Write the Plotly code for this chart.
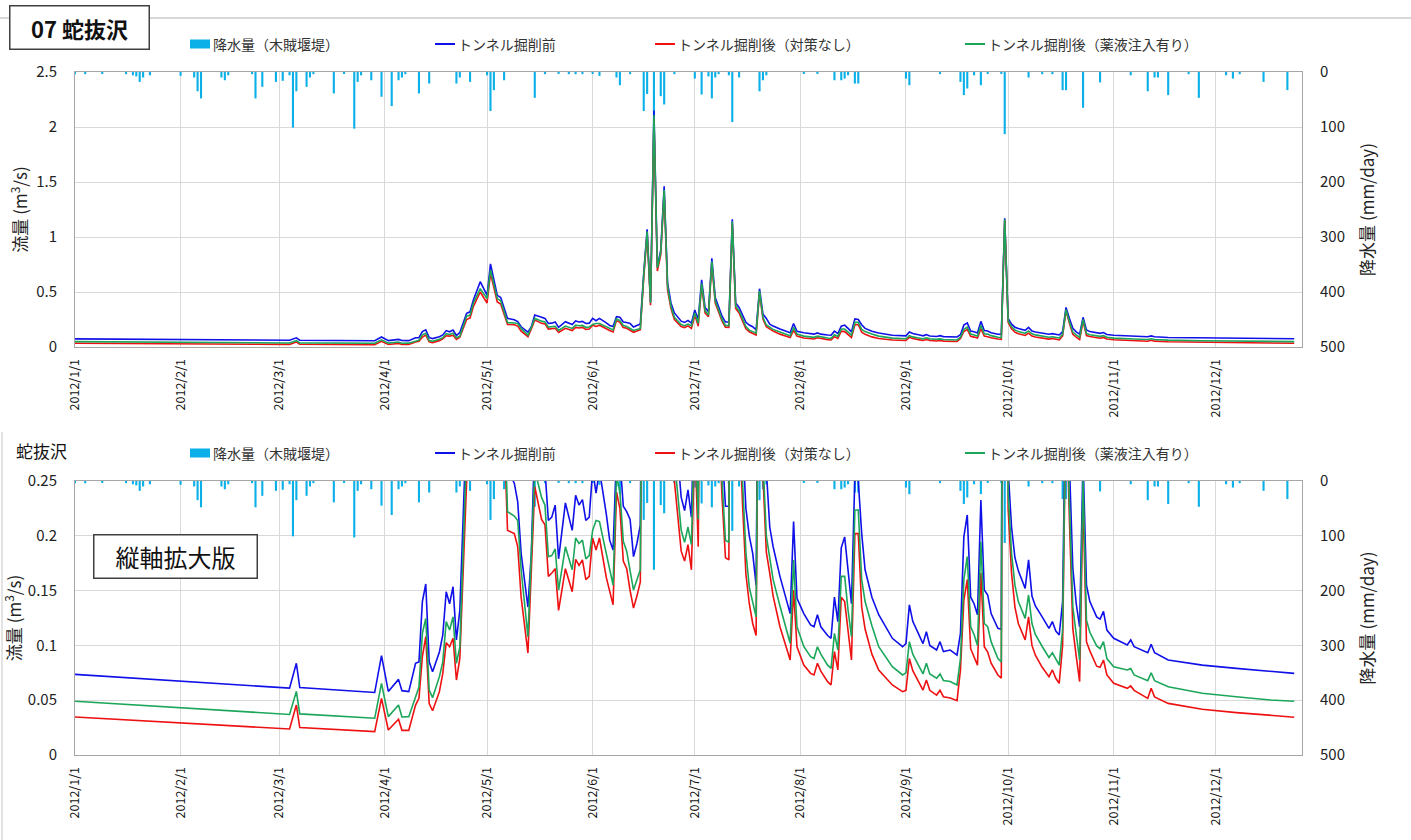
import plotly.graph_objects as go

# ---------------- data ----------------
flow_dates = [
    "2012-01-01", "2012-03-04", "2012-03-06", "2012-03-07", "2012-03-29", "2012-03-31",
    "2012-04-02", "2012-04-05", "2012-04-06", "2012-04-08", "2012-04-10", "2012-04-11",
    "2012-04-12", "2012-04-13", "2012-04-14", "2012-04-15", "2012-04-17", "2012-04-18",
    "2012-04-19", "2012-04-20", "2012-04-21", "2012-04-22", "2012-04-23", "2012-04-25",
    "2012-04-26", "2012-04-27", "2012-04-29", "2012-05-01", "2012-05-02", "2012-05-04",
    "2012-05-05", "2012-05-07", "2012-05-09", "2012-05-10", "2012-05-11", "2012-05-13",
    "2012-05-14", "2012-05-15", "2012-05-17", "2012-05-18", "2012-05-19", "2012-05-20",
    "2012-05-21", "2012-05-22", "2012-05-24", "2012-05-26", "2012-05-27", "2012-05-28",
    "2012-05-29", "2012-05-30", "2012-05-31", "2012-06-01", "2012-06-02", "2012-06-03",
    "2012-06-05", "2012-06-06", "2012-06-07", "2012-06-08", "2012-06-09", "2012-06-10",
    "2012-06-11", "2012-06-12", "2012-06-13", "2012-06-14", "2012-06-15", "2012-06-16",
    "2012-06-17", "2012-06-18", "2012-06-19", "2012-06-20", "2012-06-21", "2012-06-22",
    "2012-06-23", "2012-06-24", "2012-06-25", "2012-06-27", "2012-06-28", "2012-06-29",
    "2012-06-30", "2012-07-01", "2012-07-02", "2012-07-03", "2012-07-04", "2012-07-05",
    "2012-07-06", "2012-07-07", "2012-07-08", "2012-07-09", "2012-07-10", "2012-07-11",
    "2012-07-12", "2012-07-13", "2012-07-14", "2012-07-15", "2012-07-16", "2012-07-17",
    "2012-07-18", "2012-07-19", "2012-07-20", "2012-07-21", "2012-07-22", "2012-07-23",
    "2012-07-24", "2012-07-26", "2012-07-28", "2012-07-29", "2012-07-30", "2012-07-31",
    "2012-08-02", "2012-08-04", "2012-08-05", "2012-08-06", "2012-08-07", "2012-08-09",
    "2012-08-10", "2012-08-11", "2012-08-12", "2012-08-13", "2012-08-14", "2012-08-15",
    "2012-08-16", "2012-08-17", "2012-08-18", "2012-08-19", "2012-08-20", "2012-08-22",
    "2012-08-24", "2012-08-28", "2012-08-31", "2012-09-01", "2012-09-02", "2012-09-03",
    "2012-09-05", "2012-09-06", "2012-09-07", "2012-09-08", "2012-09-10", "2012-09-11",
    "2012-09-12", "2012-09-14", "2012-09-16", "2012-09-17", "2012-09-18", "2012-09-19",
    "2012-09-20", "2012-09-21", "2012-09-22", "2012-09-23", "2012-09-24", "2012-09-25",
    "2012-09-26", "2012-09-28", "2012-09-29", "2012-09-30", "2012-10-01", "2012-10-02",
    "2012-10-03", "2012-10-04", "2012-10-06", "2012-10-07", "2012-10-08", "2012-10-09",
    "2012-10-11", "2012-10-13", "2012-10-14", "2012-10-15", "2012-10-16", "2012-10-17",
    "2012-10-18", "2012-10-19", "2012-10-20", "2012-10-21", "2012-10-22", "2012-10-23",
    "2012-10-24", "2012-10-25", "2012-10-27", "2012-10-28", "2012-10-29", "2012-10-30",
    "2012-11-01", "2012-11-05", "2012-11-06", "2012-11-07", "2012-11-11", "2012-11-12",
    "2012-11-13", "2012-11-17", "2012-11-27", "2012-12-07", "2012-12-17", "2012-12-24",
]

flow_before = [  # トンネル掘削前 (blue)
    0.0736, 0.061, 0.0837, 0.0615, 0.057, 0.0906,
    0.058, 0.069, 0.0587, 0.0578, 0.0837, 0.085,
    0.14, 0.156, 0.085, 0.076, 0.094, 0.1095,
    0.149, 0.138, 0.1535, 0.105, 0.132, 0.306,
    0.32, 0.43, 0.594, 0.47, 0.755, 0.47,
    0.45, 0.26, 0.248, 0.231, 0.184, 0.135,
    0.184, 0.29, 0.27, 0.26, 0.214, 0.217,
    0.228, 0.179, 0.23, 0.205, 0.237, 0.228,
    0.233, 0.214, 0.217, 0.26, 0.239, 0.26,
    0.22, 0.196, 0.187, 0.275, 0.27, 0.227,
    0.222, 0.215, 0.181, 0.193, 0.21, 0.67,
    1.07, 0.41, 2.15, 0.73, 0.88, 1.46,
    0.58, 0.40, 0.31, 0.235, 0.223, 0.242,
    0.217, 0.336, 0.25, 0.61, 0.36, 0.32,
    0.806, 0.45, 0.36, 0.28, 0.227, 0.227,
    1.16, 0.40, 0.36, 0.29, 0.225, 0.20,
    0.184, 0.155, 0.53, 0.30, 0.26, 0.208,
    0.19, 0.163, 0.14, 0.129, 0.213, 0.143,
    0.129, 0.1186, 0.117, 0.128, 0.117, 0.109,
    0.1065, 0.144, 0.1216, 0.189, 0.199, 0.169,
    0.138, 0.255, 0.25, 0.202, 0.169, 0.144,
    0.128, 0.1065, 0.0988, 0.1016, 0.137, 0.122,
    0.109, 0.1016, 0.1125, 0.10, 0.0958, 0.1034,
    0.0943, 0.0958, 0.0912, 0.111, 0.199, 0.219,
    0.144, 0.138, 0.128, 0.2327, 0.1505, 0.146,
    0.129, 0.1156, 0.1147, 1.17, 0.26, 0.208,
    0.18, 0.168, 0.152, 0.178, 0.145, 0.136,
    0.126, 0.1156, 0.1217, 0.113, 0.1095, 0.14,
    0.36, 0.26, 0.17, 0.138, 0.117, 0.27,
    0.155, 0.14, 0.126, 0.124, 0.131, 0.114,
    0.1065, 0.1004, 0.105, 0.0988, 0.0933, 0.101,
    0.0933, 0.0867, 0.082, 0.079, 0.076, 0.0745,
]

flow_after_none = [  # トンネル掘削後（対策なし） (red)
    0.0347, 0.0237, 0.0456, 0.025, 0.0213, 0.0517,
    0.0228, 0.0326, 0.0225, 0.0225, 0.0456, 0.0517,
    0.0897, 0.108, 0.047, 0.0404, 0.0578, 0.0745,
    0.1025, 0.0988, 0.1065, 0.0684, 0.0882, 0.25,
    0.265, 0.37, 0.50, 0.40, 0.67, 0.41,
    0.39, 0.205, 0.202, 0.19, 0.144, 0.093,
    0.165, 0.245, 0.215, 0.21, 0.163, 0.166,
    0.17, 0.132, 0.17, 0.149, 0.1785, 0.173,
    0.178, 0.16, 0.163, 0.198, 0.187, 0.198,
    0.162, 0.15, 0.137, 0.24, 0.225, 0.177,
    0.17, 0.15, 0.134, 0.145, 0.158, 0.63,
    1.03, 0.38, 2.07, 0.69, 0.84, 1.40,
    0.52, 0.35, 0.25, 0.186, 0.177, 0.192,
    0.169, 0.29, 0.19, 0.56, 0.31, 0.275,
    0.76, 0.40, 0.31, 0.235, 0.18, 0.178,
    1.12, 0.35, 0.31, 0.23, 0.165, 0.138,
    0.12, 0.109, 0.49, 0.255, 0.185, 0.166,
    0.145, 0.117, 0.097, 0.0867, 0.1505, 0.0988,
    0.082, 0.0745, 0.073, 0.0837, 0.0765, 0.0669,
    0.0639, 0.0943, 0.0776, 0.144, 0.14, 0.11,
    0.0867, 0.202, 0.202, 0.135, 0.115, 0.092,
    0.0776, 0.0639, 0.0578, 0.059, 0.088, 0.077,
    0.065, 0.0593, 0.0684, 0.059, 0.0547, 0.059,
    0.0532, 0.052, 0.0496, 0.0776, 0.141, 0.16,
    0.097, 0.09, 0.082, 0.166, 0.0988, 0.094,
    0.0837, 0.073, 0.07, 1.15, 0.225, 0.166,
    0.135, 0.12, 0.105, 0.126, 0.10, 0.091,
    0.08, 0.0715, 0.0776, 0.07, 0.0654, 0.10,
    0.33, 0.215, 0.115, 0.09, 0.067, 0.235,
    0.1034, 0.095, 0.081, 0.08, 0.0867, 0.073,
    0.0654, 0.0608, 0.063, 0.059, 0.0517, 0.0608,
    0.053, 0.0471, 0.0417, 0.0387, 0.0365, 0.0345,
]

flow_after_grout = [  # トンネル掘削後（薬液注入有り） (green)
    0.049, 0.037, 0.058, 0.0375, 0.0335, 0.0654,
    0.035, 0.0456, 0.0347, 0.035, 0.053, 0.062,
    0.111, 0.1247, 0.0593, 0.0523, 0.0715, 0.085,
    0.1217, 0.114, 0.126, 0.0837, 0.0985, 0.28,
    0.29, 0.40, 0.53, 0.44, 0.70, 0.44,
    0.42, 0.222, 0.218, 0.214, 0.169, 0.108,
    0.18, 0.26, 0.235, 0.228, 0.181, 0.182,
    0.188, 0.1505, 0.19, 0.169, 0.198, 0.193,
    0.196, 0.179, 0.182, 0.205, 0.214, 0.213,
    0.184, 0.17, 0.155, 0.255, 0.24, 0.195,
    0.186, 0.168, 0.1505, 0.16, 0.169, 0.65,
    1.05, 0.40, 2.11, 0.72, 0.86, 1.43,
    0.55, 0.37, 0.27, 0.205, 0.194, 0.208,
    0.192, 0.31, 0.215, 0.58, 0.33, 0.29,
    0.78, 0.42, 0.33, 0.25, 0.196, 0.194,
    1.14, 0.37, 0.33, 0.25, 0.185, 0.153,
    0.138, 0.126, 0.51, 0.27, 0.20, 0.178,
    0.16, 0.136, 0.114, 0.102, 0.178, 0.117,
    0.099, 0.0897, 0.088, 0.0988, 0.092, 0.082,
    0.079, 0.111, 0.096, 0.163, 0.163, 0.132,
    0.108, 0.2235, 0.2235, 0.16, 0.14, 0.118,
    0.0988, 0.0806, 0.073, 0.075, 0.1034, 0.092,
    0.08, 0.074, 0.0837, 0.074, 0.07, 0.074,
    0.068, 0.067, 0.0639, 0.088, 0.16, 0.181,
    0.117, 0.11, 0.10, 0.1946, 0.12, 0.117,
    0.1034, 0.088, 0.085, 1.16, 0.24, 0.184,
    0.155, 0.14, 0.1247, 0.146, 0.12, 0.11,
    0.099, 0.089, 0.0933, 0.087, 0.082, 0.115,
    0.34, 0.23, 0.135, 0.11, 0.0867, 0.25,
    0.123, 0.112, 0.0995, 0.097, 0.1034, 0.088,
    0.0806, 0.0776, 0.079, 0.073, 0.0678, 0.075,
    0.0678, 0.0623, 0.0563, 0.0532, 0.0502, 0.049,
]

rain_dates = [
    "2012-01-01", "2012-01-04", "2012-01-09", "2012-01-16", "2012-01-18", "2012-01-19",
    "2012-01-20", "2012-01-21", "2012-01-23", "2012-02-01", "2012-02-05", "2012-02-06",
    "2012-02-07", "2012-02-13", "2012-02-14", "2012-02-15", "2012-02-22", "2012-02-23",
    "2012-02-25", "2012-02-29", "2012-03-02", "2012-03-04", "2012-03-05", "2012-03-06",
    "2012-03-09", "2012-03-10", "2012-03-11", "2012-03-17", "2012-03-20", "2012-03-23",
    "2012-03-24", "2012-03-25", "2012-03-28", "2012-03-31", "2012-04-03", "2012-04-05",
    "2012-04-06", "2012-04-07", "2012-04-11", "2012-04-14", "2012-04-22", "2012-04-23",
    "2012-04-26", "2012-05-01", "2012-05-02", "2012-05-03", "2012-05-06", "2012-05-15",
    "2012-05-18", "2012-05-22", "2012-05-25", "2012-05-27", "2012-05-29", "2012-06-01",
    "2012-06-03", "2012-06-08", "2012-06-09", "2012-06-12", "2012-06-16", "2012-06-17",
    "2012-06-19", "2012-06-21", "2012-06-22", "2012-06-25", "2012-07-01", "2012-07-03",
    "2012-07-05", "2012-07-06", "2012-07-07", "2012-07-08", "2012-07-11", "2012-07-12",
    "2012-07-14", "2012-07-20", "2012-07-21", "2012-07-22", "2012-08-02", "2012-08-06",
    "2012-08-11", "2012-08-13", "2012-08-14", "2012-08-15", "2012-08-17", "2012-08-18",
    "2012-09-01", "2012-09-02", "2012-09-11", "2012-09-17", "2012-09-18", "2012-09-19",
    "2012-09-21", "2012-09-23", "2012-09-25", "2012-09-29", "2012-09-30", "2012-10-07",
    "2012-10-11", "2012-10-14", "2012-10-17", "2012-10-18", "2012-10-23", "2012-10-28",
    "2012-11-06", "2012-11-11", "2012-11-13", "2012-11-14", "2012-11-17", "2012-11-23",
    "2012-11-26", "2012-12-04", "2012-12-06", "2012-12-08", "2012-12-15", "2012-12-22",
]
rain_mm = [
    4, 4, 3, 4, 6, 8,
    18, 10, 6, 7, 10, 35,
    48, 10, 15, 6, 4, 48,
    27, 18, 16, 6, 101, 35,
    27, 10, 4, 39, 3, 103,
    18, 6, 15, 45, 62, 15,
    10, 4, 39, 21, 21, 10,
    18, 6, 71, 33, 15, 47,
    4, 3, 4, 4, 4, 3,
    7, 10, 24, 4, 71, 40,
    162, 44, 59, 4, 12, 41,
    8, 48, 10, 4, 6, 91,
    10, 35, 15, 6, 3, 3,
    15, 15, 12, 6, 21, 21,
    12, 24, 4, 18, 42, 30,
    6, 24, 3, 3, 113, 10,
    4, 4, 33, 33, 65, 19,
    6, 35, 10, 10, 42, 4,
    47, 6, 12, 4, 18, 33,
]

month_ticks = ["2012-%02d-01" % m for m in range(1, 13)]
month_labels = ["2012/%d/1" % m for m in range(1, 13)]

series_names = ["トンネル掘削前", "トンネル掘削後（対策なし）", "トンネル掘削後（薬液注入有り）"]
rain_name = "降水量（木賊堰堤）"

assert len(flow_dates) == len(flow_before) == len(flow_after_none) == len(flow_after_grout)
assert len(rain_dates) == len(rain_mm)

# ---------------- styling ----------------
FONT = "Noto Sans CJK JP"
BLUE, RED, GREEN, RAIN = "#1010e8", "#ee1111", "#1ca65a", "#0bb0e8"
GRID = "#d9d9d9"
AXLINE = "#a6a6a6"

W, H = 1411, 840
L, R, T, B = 75, 1302, 72, 755  # plot area pixels (both panels span L..R)
TOP_Y0, TOP_Y1 = 72, 347
BOT_Y0, BOT_Y1 = 481, 755
PH = B - T


def py(p):  # pixel y -> paper y
    return (B - p) / PH


def px(p):  # pixel x -> paper x
    return (p - L) / (R - L)


x_range = ["2012-01-01", "2012-12-26 07:00"]

fig = go.Figure()

panels = [("x", "y", "y2"), ("x2", "y3", "y4")]
line_series = [(flow_before, BLUE), (flow_after_none, RED), (flow_after_grout, GREEN)]
for xa, rain_ax, flow_ax in panels:
    fig.add_trace(go.Bar(
        x=rain_dates, y=rain_mm, xaxis=xa, yaxis=rain_ax, name=rain_name,
        marker=dict(color=RAIN, line=dict(width=0)), width=0.62 * 86400000,
        showlegend=False,
    ))
    for i, (vals, col) in enumerate(line_series):
        fig.add_trace(go.Scatter(
            x=flow_dates, y=vals, xaxis=xa, yaxis=flow_ax, mode="lines",
            name=series_names[i], line=dict(color=col, width=1.6), showlegend=False,
        ))

tickfont_num = dict(family=FONT, size=15, color="#222")
xcommon = dict(
    type="date", range=x_range, tickvals=month_ticks, ticktext=month_labels,
    tickangle=-90, tickfont=dict(family=FONT, size=12.5, color="#111"),
    showgrid=True, gridcolor=GRID, gridwidth=1, showline=True, linecolor=AXLINE,
    mirror=True, ticks="", zeroline=False, automargin=False, domain=[0, 1],
    ticklabelstandoff=6,
)
top_dom = [py(TOP_Y1), py(TOP_Y0)]
bot_dom = [py(BOT_Y1), py(BOT_Y0)]

rain_axis = dict(side="right", range=[500, 0], dtick=100, tickfont=tickfont_num,
                 showgrid=True, gridcolor=GRID, zeroline=False, showline=True,
                 linecolor=AXLINE, ticks="", automargin=False, ticklabelstandoff=14,
                 title=dict(text="降水量 (mm/day)", font=dict(family=FONT, size=17), standoff=18))
flow_axis = dict(side="left", tickfont=tickfont_num, showgrid=False, zeroline=False,
                 showline=True, linecolor=AXLINE, ticks="", automargin=False,
                 ticklabelstandoff=14,
                 title=dict(text="流量 (m<sup>3</sup>/s)", font=dict(family=FONT, size=17), standoff=4))

fig.update_layout(
    width=W, height=H,
    margin=dict(l=L, r=W - R, t=T, b=H - B, pad=0),
    paper_bgcolor="white", plot_bgcolor="white",
    font=dict(family=FONT, color="#222"),
    showlegend=False,
    xaxis=dict(xcommon, anchor="y"),
    xaxis2=dict(xcommon, anchor="y3"),
    yaxis=dict(rain_axis, domain=top_dom, anchor="x"),
    yaxis2=dict(flow_axis, overlaying="y", anchor="x", range=[0, 2.5], dtick=0.5),
    yaxis3=dict(rain_axis, domain=bot_dom, anchor="x2"),
    yaxis4=dict(flow_axis, overlaying="y3", anchor="x2", range=[0, 0.25], dtick=0.05),
)

# ---- hand-placed legends (one row above each panel) ----
legend_rows = [44, 453]
sym_x = [190, 435, 655, 965]
legend_labels = [rain_name] + series_names
legend_colors = [RAIN, BLUE, RED, GREEN]
for ly in legend_rows:
    for k in range(4):
        x0 = sym_x[k]
        if k == 0:
            fig.add_shape(type="rect", xref="paper", yref="paper",
                          x0=px(x0), x1=px(x0 + 20), y0=py(ly - 4.5), y1=py(ly + 4.5),
                          fillcolor=legend_colors[k], line=dict(width=0))
        else:
            fig.add_shape(type="line", xref="paper", yref="paper",
                          x0=px(x0), x1=px(x0 + 20), y0=py(ly), y1=py(ly),
                          line=dict(color=legend_colors[k], width=2))
        fig.add_annotation(text=legend_labels[k], xref="paper", yref="paper",
                           x=px(x0 + 21), y=py(ly), xanchor="left", yanchor="middle",
                           showarrow=False, font=dict(family=FONT, size=14, color="#333"))

# header rule and left rule
fig.add_shape(type="line", xref="paper", yref="paper", x0=px(0), x1=px(W), y0=py(18), y1=py(18),
              line=dict(color="#b0b0b0", width=1))
fig.add_shape(type="line", xref="paper", yref="paper", x0=px(2), x1=px(2), y0=py(432), y1=py(840),
              line=dict(color="#c8c8c8", width=1))

fig.add_annotation(text="<b>07 蛇抜沢</b>", xref="paper", yref="paper", x=px(79), y=py(27.5),
                   showarrow=False, font=dict(family=FONT, size=22, color="#111"),
                   bgcolor="white", bordercolor="#404040", borderwidth=1.5,
                   width=136, height=40, borderpad=1, xanchor="center", yanchor="middle")
fig.add_annotation(text="蛇抜沢", xref="paper", yref="paper", x=px(14), y=py(450),
                   showarrow=False, font=dict(family=FONT, size=17, color="#111"),
                   xanchor="left", yanchor="middle")
fig.add_annotation(text="縦軸拡大版", xref="paper", yref="paper", x=px(175), y=py(556.5),
                   showarrow=False, font=dict(family=FONT, size=24, color="#111"),
                   bgcolor="white", bordercolor="#404040", borderwidth=1.5,
                   width=160, height=40, borderpad=1, xanchor="center", yanchor="middle")

# remove the browser's default 8px page margin so pixel positions match
fig.write_html("out.html", config={"displayModeBar": False},
               post_script="document.body.style.margin='0';")
